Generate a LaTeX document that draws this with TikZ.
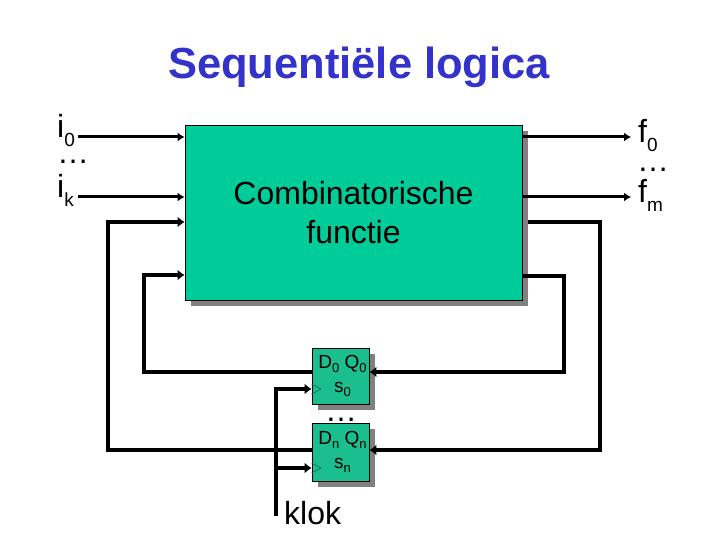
\documentclass[tikz,border=0pt]{standalone}
\usepackage{fontspec}
\setmainfont{Liberation Sans}
\definecolor{combogreen}{RGB}{0,204,153}
\definecolor{ffgreen}{RGB}{26,190,143}
\definecolor{shadowgray}{RGB}{128,128,128}
\definecolor{titleblue}{RGB}{51,51,204}
\usetikzlibrary{arrows.meta,positioning,calc}
\newcommand{\lowidx}[1]{\raisebox{-9pt}{\fontsize{19}{19}\selectfont #1}}
\newcommand{\ffidx}[1]{\raisebox{-4pt}{\fontsize{13}{13}\selectfont #1}}
\tikzset{
  blocktext/.style={font=\fontsize{32}{39}\selectfont, align=center},
  sigtext/.style={font=\fontsize{32}{32}\selectfont, inner sep=0pt, anchor=base west},
  ffbox/.style={draw=black, line width=0.8pt, fill=ffgreen, minimum width=57pt, minimum height=57pt,
    inner sep=0pt, align=center, font=\fontsize{19}{24}\selectfont},
  wirethin/.style={line width=3pt, -{Latex[length=7pt,width=9pt]}},
  wirethick/.style={line width=3.3pt, -{Latex[length=7pt,width=11pt]}},
  clocktip/.style={draw=ffgreen!60!black, line width=0.7pt}
}

\begin{document}
\begin{tikzpicture}[x=1pt,y=-1pt]
    \useasboundingbox (0,0) rectangle (720,540);
    \node[font=\fontsize{43.5}{43.5}\selectfont\bfseries, text=titleblue, inner sep=0pt, anchor=base] (title) at (359,79) {Sequentiële logica};
    % shadows first
    \fill[shadowgray] (191,131) rectangle (528,306);
    \fill[shadowgray] (318,354) rectangle (375,410);
    \fill[shadowgray] (318,429) rectangle (375,487);
    \node[draw=black, line width=0.8pt, fill=combogreen, minimum width=337pt, minimum height=175pt,
          inner sep=0pt, blocktext] (combi) at (353.5,212.5) {Combinatorische\\functie};
    \node[ffbox, minimum height=56pt] (ffzero) at (340.5,376) {\hspace*{4pt}D\ffidx{0} Q\ffidx{0}\\\hspace*{4pt}s\ffidx{0}};
    \node[ffbox, minimum height=58pt] (ffn) at (340.5,452) {\hspace*{4pt}D\ffidx{n} Q\ffidx{n}\\\hspace*{4pt}s\ffidx{n}};
    \node[sigtext] (izero) at (57,138) {i\lowidx{0}};
    \node[sigtext] (idots) at (57,164) {…};
    \node[sigtext] (ik) at (57,198) {i\lowidx{k}};
    \node[sigtext] (fzero) at (638,143) {f\lowidx{0}};
    \node[sigtext] (fdots) at (637,172) {…};
    \node[sigtext] (fm) at (638,203) {f\lowidx{m}};
    \node[sigtext, anchor=base] (ffdots) at (341,421) {…};
    \node[sigtext] (klok) at (284,524) {klok};
    % wire ends
    \coordinate (clkfoot) at (276,516);
    \coordinate (clkzero) at (276,389);
    \coordinate (clkn) at (276,468);
    % inputs and outputs
    \draw[wirethin] (78,137) -- (combi.west |- 0,137);
    \draw[wirethin] (78,197) -- (combi.west |- 0,197);
    \draw[wirethin] (combi.east |- 0,137) -- (631,137);
    \draw[wirethin] (combi.east |- 0,197) -- (631,197);
    % feedback
    \draw[wirethick] (ffn.west |- 0,450) -| (108,222) -- (combi.west |- 0,222);
    \draw[wirethick] (ffzero.west |- 0,372) -| (144,275) -- (combi.west |- 0,275);
    \draw[wirethick] (528,222) -| (600,450) -- (ffn.east |- 0,450);
    \draw[wirethick] (combi.east |- 0,276) -| (564,372) -- (ffzero.east |- 0,372);
    % clock
    \draw[wirethick] (clkfoot) -- (clkzero) -- (ffzero.west |- clkzero);
    \draw[wirethick] (clkn) -- (ffn.west |- clkn);
    \draw[clocktip] (ffzero.west |- 0,384) -- (321,389) -- (ffzero.west |- 0,394);
    \draw[clocktip] (ffn.west |- 0,463) -- (321,468) -- (ffn.west |- 0,473);
  \end{tikzpicture}
\end{document}
